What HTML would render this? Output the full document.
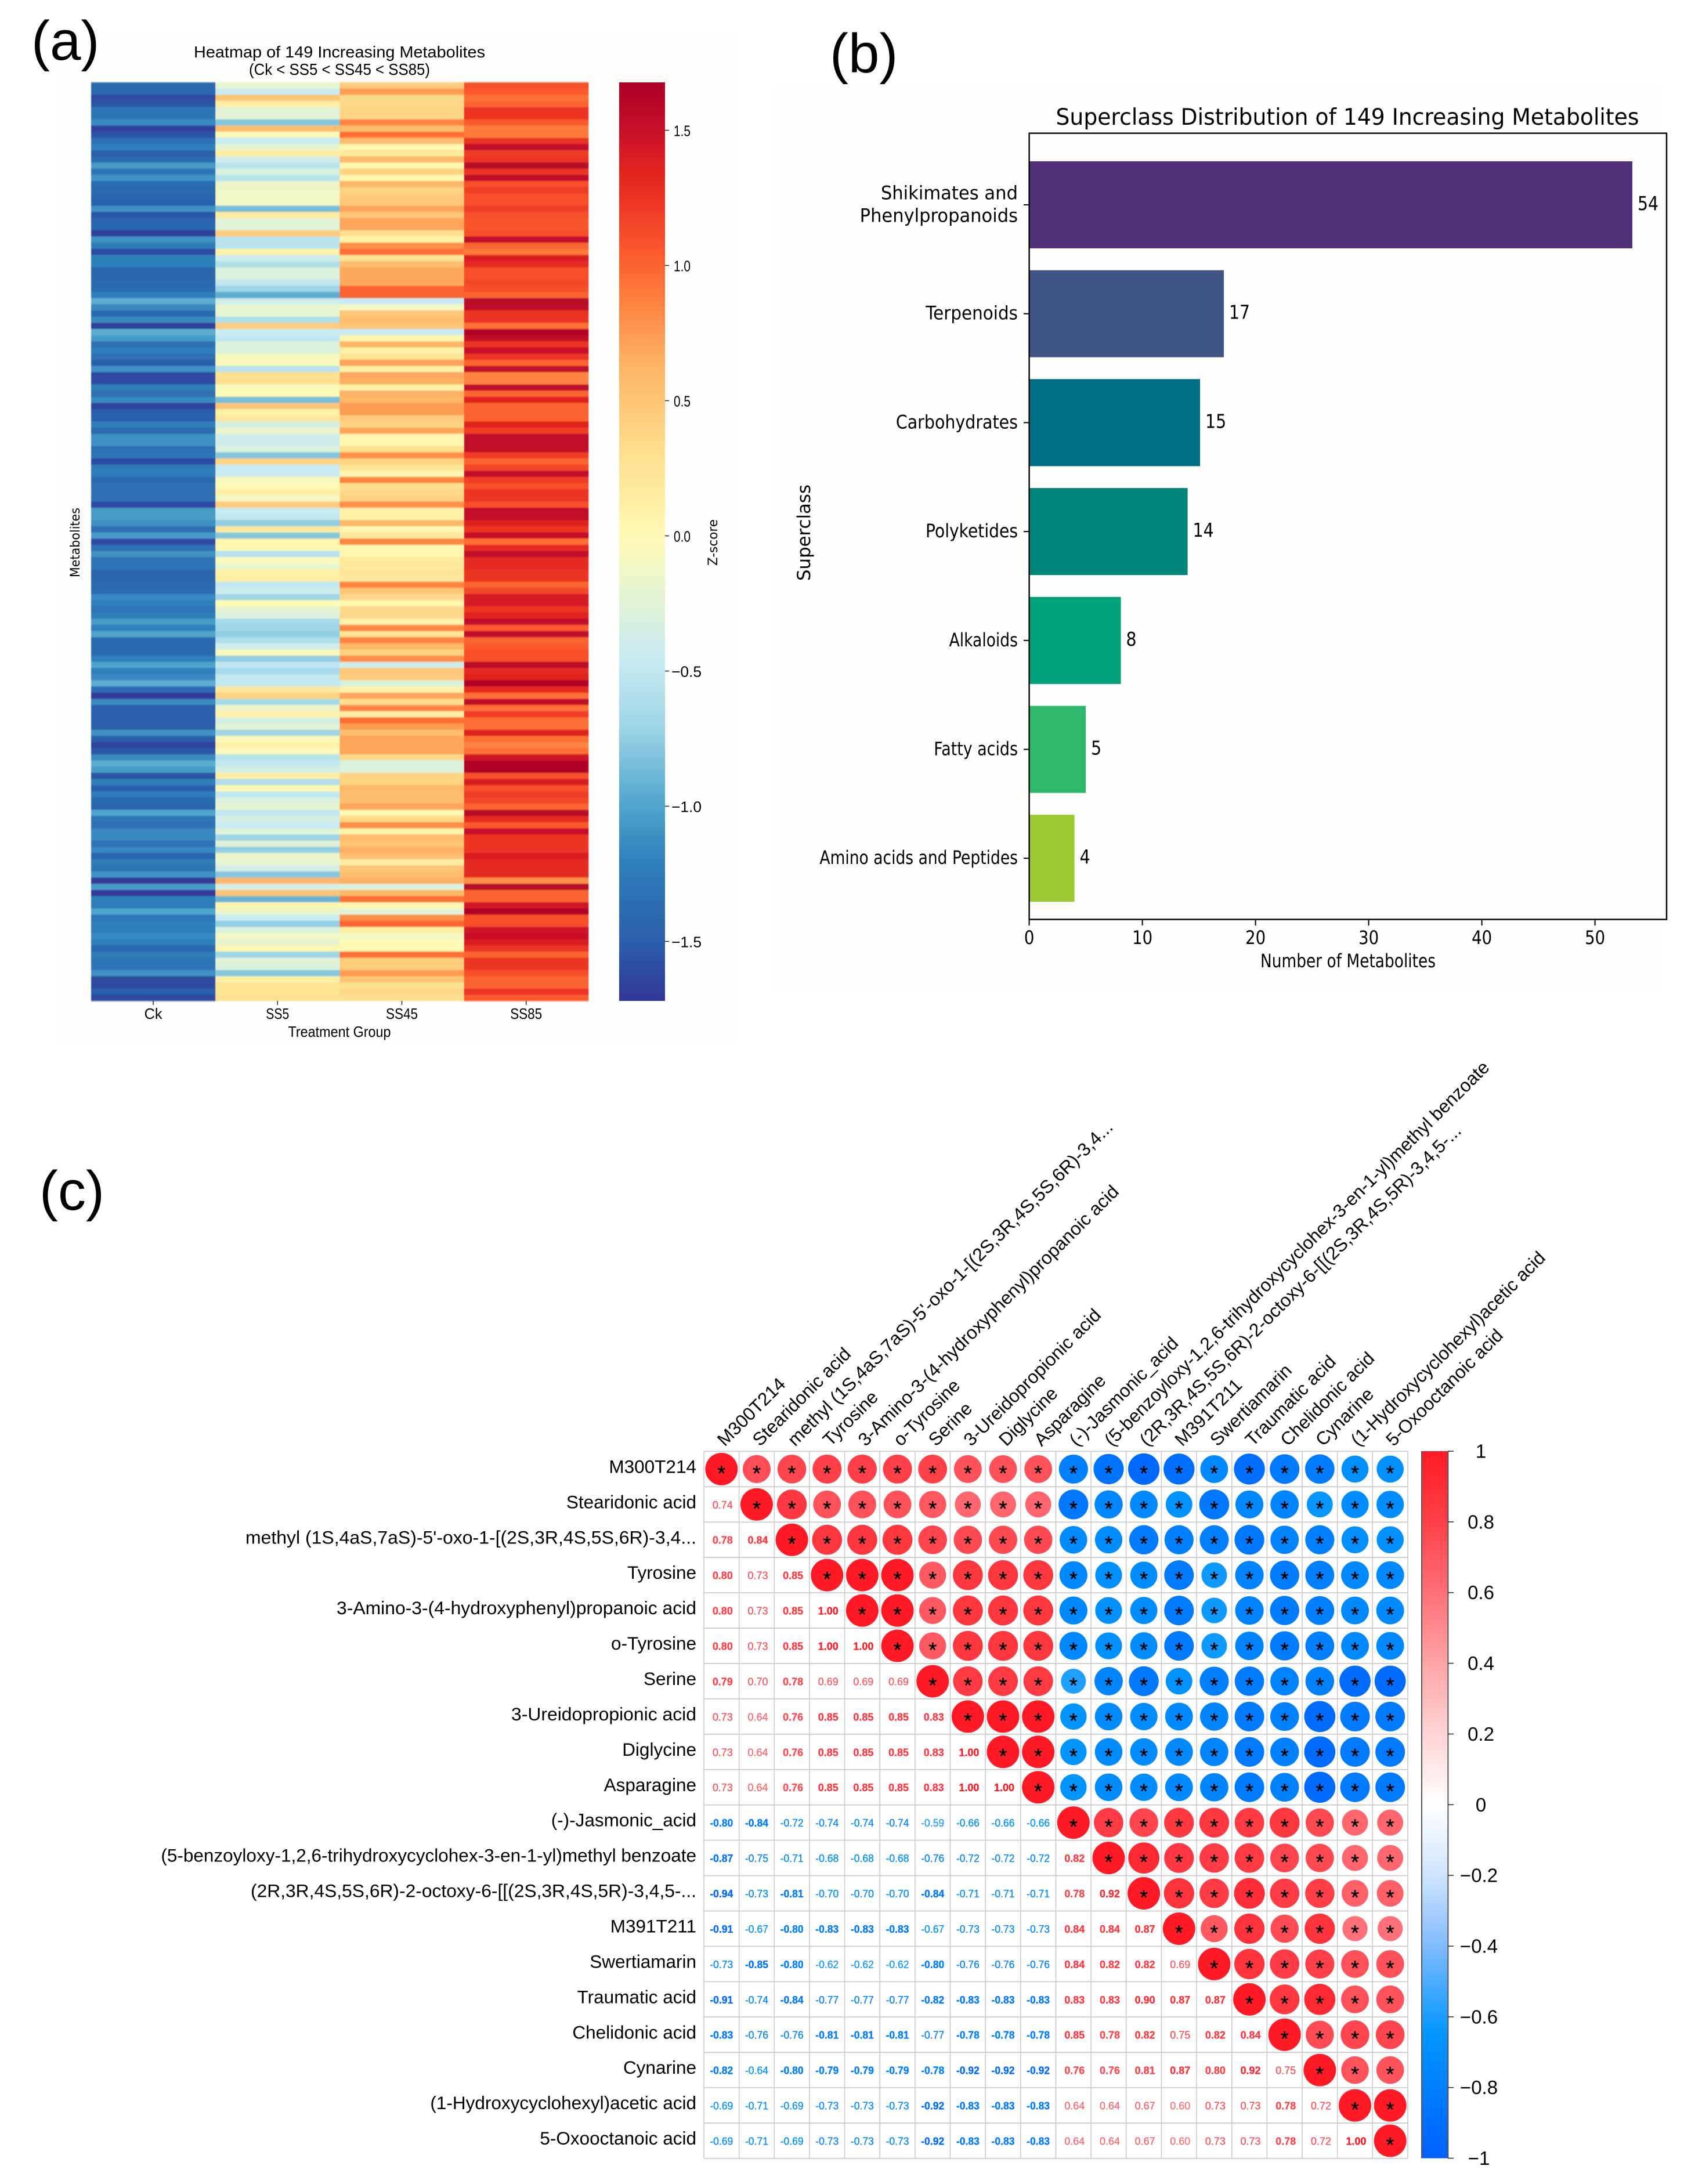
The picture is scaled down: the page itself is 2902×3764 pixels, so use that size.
<!DOCTYPE html>
<html lang="en">
<head>
<meta charset="utf-8">
<title>Metabolite heatmap, superclass distribution and correlation matrix</title>
<style>
html,body{margin:0;padding:0;background:#fff;}
body{width:2902px;height:3764px;overflow:hidden;}
svg{display:block;}
text{font-family:"Liberation Sans",Arial,sans-serif;fill:#000;}
.dj{font-family:"DejaVu Sans",sans-serif;}
</style>
</head>
<body>
<svg id="figure" xmlns="http://www.w3.org/2000/svg" width="2902" height="3764" viewBox="0 0 2902 3764">
  <defs id="defs">
    <filter id="soft" x="-1%" y="-1%" width="102%" height="102%"><feGaussianBlur stdDeviation="0.6 1"/></filter>
  </defs>
  <rect x="0" y="0" width="2902" height="3764" fill="#fff"/>
  <rect x="99" y="60" width="1174" height="1735" fill="#fefefd"/>
  <rect x="1330" y="150" width="1534" height="1557" fill="#fefefd"/>

  <text x="54" y="103" font-size="96">(a)</text>
  <text x="1430" y="125" font-size="96">(b)</text>
  <text x="68" y="2085" font-size="96">(c)</text>

  <g id="panel-a">
    <text x="585" y="99" font-size="28" text-anchor="middle" textLength="502" lengthAdjust="spacingAndGlyphs">Heatmap of 149 Increasing Metabolites</text>
    <text x="585" y="129" font-size="28" text-anchor="middle" textLength="312" lengthAdjust="spacingAndGlyphs">(Ck &lt; SS5 &lt; SS45 &lt; SS85)</text>
    <g id="heat-cells" filter="url(#soft)"></g>
    <g id="heat-x-axis"></g>
    <text x="585" y="1787" font-size="26" text-anchor="middle" textLength="177" lengthAdjust="spacingAndGlyphs">Treatment Group</text>
    <text class="dj" transform="translate(137,935) rotate(-90)" font-size="22" text-anchor="middle" textLength="120" lengthAdjust="spacingAndGlyphs">Metabolites</text>
    <g id="heat-colorbar"></g>
    <text class="dj" transform="translate(1236,935) rotate(-90)" font-size="22" text-anchor="middle" textLength="80" lengthAdjust="spacingAndGlyphs">Z-score</text>
  </g>

  <g id="panel-b">
    <text class="dj" x="2322" y="215" font-size="39" text-anchor="middle" textLength="1005" lengthAdjust="spacingAndGlyphs">Superclass Distribution of 149 Increasing Metabolites</text>
    <g id="bars"></g>
    <rect x="1773.6" y="229.6" width="1098.4" height="1355" fill="none" stroke="#000" stroke-width="2.4"/>
    <g id="bar-x-axis"></g>
    <g id="bar-y-axis"></g>
    <text class="dj" x="2323" y="1667" font-size="32" text-anchor="middle" textLength="302" lengthAdjust="spacingAndGlyphs">Number of Metabolites</text>
    <text class="dj" transform="translate(1396,918) rotate(-90)" font-size="31" text-anchor="middle" textLength="166" lengthAdjust="spacingAndGlyphs">Superclass</text>
  </g>

  <g id="panel-c">
    <g id="corr-grid"></g>
    <g id="corr-marks"></g>
    <g id="corr-row-labels"></g>
    <g id="corr-col-labels"></g>
    <g id="corr-colorbar"></g>
  </g>
</svg>

<script>
/* ---------- Panel (a) data ---------- */
const heatColumns = ['Ck', 'SS5', 'SS45', 'SS85'];
const heatTicks = [1.5, 1.0, 0.5, 0.0, -0.5, -1.0, -1.5];
const ckValues = [
-1.4,-1.4,-1.6,-1.55,-1.3,-1.3,-1.15,-1.65,-1.55,-1.35,
-1.2,-1.5,-1.4,-1.05,-1.3,-1.1,-1.4,-1.4,-1.45,-1.5,
-1.1,-1.55,-1.45,-1.45,-1.65,-1.1,-1.25,-1.6,-1.2,-1.2,
-1.45,-1.45,-1.4,-1.4,-1.2,-.95,-1.15,-1.4,-1.15,-1.65,
-.95,-1.05,-1.35,-1.2,-1.35,-1.5,-1.1,-1.6,-1.6,-1.2,
-1.35,-1.15,-1.65,-1.5,-1.5,-1.2,-1.4,-1.1,-1.1,-1.35,
-1.3,-1.6,-1.25,-1.25,-1.4,-1.35,-1.35,-1.35,-1.6,-1.05,
-1.05,-1.1,-1.35,-1.05,-1.6,-1.35,-1.1,-1.3,-1.3,-1.45,
-1.45,-1.4,-1.4,-1.15,-1.2,-1.3,-1.2,-1.05,-1.2,-1.0,
-1.4,-1.4,-1.4,-1.2,-1.0,-1.2,-1.15,-.95,-1.4,-1.7,
-1.15,-1.5,-1.5,-1.5,-1.5,-1.1,-1.5,-1.65,-1.55,-1.15,
-.95,-1.05,-1.55,-1.2,-1.5,-1.25,-1.4,-1.45,-1.0,-1.3,
-1.35,-1.15,-1.15,-1.3,-1.15,-1.45,-1.25,-1.3,-1.1,-1.7,
-1.05,-1.7,-1.2,-1.25,-1.0,-1.3,-1.2,-1.25,-1.15,-1.2,
-1.4,-1.25,-1.3,-1.3,-1.1,-1.6,-1.6,-1.5,-1.6];
const ss5Values = [
-.2,-.45,.5,.15,-.25,-.25,-.8,.55,-.05,-.45,
-.2,.15,-.4,-.55,-.3,-.55,-.15,-.15,-.12,-.12,
-.85,.2,-.25,-.25,.45,-.55,-.55,.1,-.4,-.6,
-.3,-.28,-.5,-.7,-.95,-.4,-.2,-.2,-.6,.45,
-.45,-.5,-.3,-.3,-.05,-.05,-.55,.3,.3,-.05,
0,-.85,.5,.1,.2,-.35,-.15,-.4,-.4,-.3,
-.8,.4,-.45,-.45,-.05,0,.1,-.1,.45,-.45,
-.5,-.75,.2,-.8,.05,.05,-.55,-.05,-.2,.1,
.15,-.5,-.4,-.7,0,-.2,-.3,-.65,-.7,-.75,
-.6,-.4,-.05,-.75,-.5,-.65,-.5,-.5,.2,.4,
-.65,-.15,.1,-.35,-.25,-.7,-.05,.1,-.05,-.55,
-.5,-.35,.15,-.6,.02,-.5,-.3,-.2,-.5,-.35,
-.45,-.25,-.7,-.25,-.75,-.15,-.2,-.35,-.8,.6,
-.35,.5,-.9,.05,-.15,-.45,-.75,-.3,-.1,-.2,
.05,-.7,-.25,-.3,-.8,.1,.25,.25,.3];
const ss45Values = [
.45,.75,.35,.35,.38,.38,.85,.55,.95,.55,
.05,.2,.6,.05,.4,.05,.62,.4,.45,.48,
.7,.5,.7,.7,.3,.08,.8,.95,.25,.55,
.68,.68,.68,1,1,-.45,-.1,.5,.55,.5,
-.45,.05,.6,.1,.25,.72,.1,.7,.65,.1,
.65,.6,.75,.75,.45,.4,.7,.05,.05,.3,
.8,.4,.25,.05,.85,.3,.35,.4,.8,.1,
.1,.6,.05,.2,.85,.05,.05,.2,.2,.25,
.2,.85,.5,.35,.05,.35,.35,.1,.85,.25,
.85,.6,.4,.8,-.4,.5,.45,-.3,.1,.7,
.3,.85,.15,.95,.75,.55,.7,.7,.7,.35,
-.3,-.3,.4,.4,.6,.55,.55,.7,.05,.35,
.8,.08,.55,.5,.65,.55,.15,.5,.55,.65,
-.3,.6,.95,.05,-.25,.8,1,.15,-.1,0,
.02,.95,.45,.45,.75,.5,.3,.35,.3];
const ss85Values = [
1.1,1.05,.95,1,1.25,1.25,1.05,.9,.9,1.25,
1.55,1.2,1.25,1.6,1.25,1.55,1.1,1.2,1.1,1.1,
1.2,1.1,1.08,1.08,1.1,1.55,1,.9,1.4,1.3,
1.1,1.1,1.15,1.1,1,1.6,1.55,1.25,1.25,.95,
1.65,1.55,1.25,1.5,1.25,1,1.55,.85,.85,1.55,
1,1.35,1,1,1,1.35,1.2,1.55,1.55,1.55,
1.2,1,1.15,1.55,1.2,1.1,1.25,1.25,1.1,1.55,
1.55,1.35,1.25,1.5,.95,1.3,1.55,1.3,1.3,1.25,
1.25,1,1.15,1.42,1.42,1.25,1.35,1.55,1.05,1.55,
1,1.05,1.1,1.1,1.6,1.3,1.35,1.65,1.3,.95,
1.55,.95,1.2,.95,.95,1.35,.95,.85,.95,1.45,
1.65,1.65,1.1,1.4,1.1,1.2,1.15,1,1.6,1.3,
1.05,1.5,1.25,1.25,1.25,1.4,1.3,1.3,1.3,.8,
1.6,1,1,1.45,1.65,1.1,1.1,1.45,1.5,1.4,
1.25,1,1.25,1.25,1.1,1,1,1.25,1.05];

/* ---------- Panel (b) data ---------- */
const barCategories = [['Shikimates and','Phenylpropanoids'],['Terpenoids'],['Carbohydrates'],['Polyketides'],['Alkaloids'],['Fatty acids'],['Amino acids and Peptides']];
const barValues = [53.3, 17.2, 15.1, 14, 8.1, 5, 4];
const barPrinted = ['54', '17', '15', '14', '8', '5', '4'];
const barColors = ['#503078', '#405585', '#006f84', '#00857b', '#00a079', '#2db86c', '#9cc932'];
const barTicks = [0, 10, 20, 30, 40, 50];

/* ---------- Panel (c) data ---------- */
const metabolites = ['M300T214','Stearidonic acid',"methyl (1S,4aS,7aS)-5'-oxo-1-[(2S,3R,4S,5S,6R)-3,4...",'Tyrosine','3-Amino-3-(4-hydroxyphenyl)propanoic acid','o-Tyrosine','Serine','3-Ureidopropionic acid','Diglycine','Asparagine','(-)-Jasmonic_acid','(5-benzoyloxy-1,2,6-trihydroxycyclohex-3-en-1-yl)methyl benzoate','(2R,3R,4S,5S,6R)-2-octoxy-6-[[(2S,3R,4S,5R)-3,4,5-...','M391T211','Swertiamarin','Traumatic acid','Chelidonic acid','Cynarine','(1-Hydroxycyclohexyl)acetic acid','5-Oxooctanoic acid'];
const correlationLower = [
[],
[.74],
[.78,.84],
[.80,.73,.85],
[.80,.73,.85,1],
[.80,.73,.85,1,1],
[.79,.70,.78,.69,.69,.69],
[.73,.64,.76,.85,.85,.85,.83],
[.73,.64,.76,.85,.85,.85,.83,1],
[.73,.64,.76,.85,.85,.85,.83,1,1],
[-.80,-.84,-.72,-.74,-.74,-.74,-.59,-.66,-.66,-.66],
[-.87,-.75,-.71,-.68,-.68,-.68,-.76,-.72,-.72,-.72,.82],
[-.94,-.73,-.81,-.70,-.70,-.70,-.84,-.71,-.71,-.71,.78,.92],
[-.91,-.67,-.80,-.83,-.83,-.83,-.67,-.73,-.73,-.73,.84,.84,.87],
[-.73,-.85,-.80,-.62,-.62,-.62,-.80,-.76,-.76,-.76,.84,.82,.82,.69],
[-.91,-.74,-.84,-.77,-.77,-.77,-.82,-.83,-.83,-.83,.83,.83,.90,.87,.87],
[-.83,-.76,-.76,-.81,-.81,-.81,-.77,-.78,-.78,-.78,.85,.78,.82,.75,.82,.84],
[-.82,-.64,-.80,-.79,-.79,-.79,-.78,-.92,-.92,-.92,.76,.76,.81,.87,.80,.92,.75],
[-.69,-.71,-.69,-.73,-.73,-.73,-.92,-.83,-.83,-.83,.64,.64,.67,.60,.73,.73,.78,.72],
[-.69,-.71,-.69,-.73,-.73,-.73,-.92,-.83,-.83,-.83,.64,.64,.67,.60,.73,.73,.78,.72,1]
];
const corrTicks = [1, 0.8, 0.6, 0.4, 0.2, 0, -0.2, -0.4, -0.6, -0.8, -1];

/* ---------- Typesetting adjustments (not data) ---------- */
const barLabelSqueeze = {'Shikimates and':.957,'Phenylpropanoids':.955,'Terpenoids':.92,'Carbohydrates':.89,'Polyketides':.88,'Alkaloids':.83,'Fatty acids':.84,'Amino acids and Peptides':.83};
const longLabelFit = {"methyl (1S,4aS,7aS)-5'-oxo-1-[(2S,3R,4S,5S,6R)-3,4...":777,'(2R,3R,4S,5S,6R)-2-octoxy-6-[[(2S,3R,4S,5R)-3,4,5-...':768,'3-Amino-3-(4-hydroxyphenyl)propanoic acid':620,'3-Ureidopropionic acid':319};

/* ---------- Helpers ---------- */
const NS = 'http://www.w3.org/2000/svg';
function make(tag, attrs, parent, content) {
  const el = document.createElementNS(NS, tag);
  for (const k in attrs) el.setAttribute(k, attrs[k]);
  if (content !== undefined) el.textContent = content;
  parent.appendChild(el);
  return el;
}
function hexToRgb(h) {
  return [parseInt(h.slice(1, 3), 16), parseInt(h.slice(3, 5), 16), parseInt(h.slice(5, 7), 16)];
}
function ramp(stops, v) {
  if (v <= stops[0][0]) return stops[0][1];
  for (let i = 1; i < stops.length; i++) {
    if (v <= stops[i][0]) {
      const t = (v - stops[i - 1][0]) / (stops[i][0] - stops[i - 1][0]);
      const a = hexToRgb(stops[i - 1][1]);
      const b = hexToRgb(stops[i][1]);
      return 'rgb(' + a.map((c, n) => Math.round(c + (b[n] - c) * t)).join(',') + ')';
    }
  }
  return stops[stops.length - 1][1];
}
const zRamp = [[-1.72,'#313695'],[-1.5,'#2b5fab'],[-1.2,'#2f80bb'],[-1.0,'#4ea5cb'],[-.7,'#9fd6e6'],[-.45,'#c9ebf2'],[-.2,'#e6f5d0'],[0,'#fffab5'],[.3,'#fee08f'],[.65,'#fdb163'],[.9,'#ff7a3a'],[1.05,'#fb5a2e'],[1.2,'#f03c26'],[1.35,'#e0241f'],[1.5,'#c8102a'],[1.68,'#ab0026']];
const rRamp = [[-1,'#0060ff'],[-.65,'#0096ff'],[-.4,'#80bbff'],[-.2,'#cfe4ff'],[0,'#ffffff'],[.2,'#ffd4d4'],[.4,'#ffa4a6'],[.6,'#ff7078'],[.8,'#ff4048'],[1,'#ff1a25']];

/* ---------- Panel (a) ---------- */
const heatSeries = [ckValues, ss5Values, ss45Values, ss85Values];
const heatX = j => 157 + j * 214.2;
const heatY = i => 142 + i * (1583 / ckValues.length);
const zToY = z => 923.5 - z * 466;
const heatCells = document.getElementById('heat-cells');
heatSeries.forEach((series, j) => {
  series.forEach((v, i) => {
    const cell = make('rect', {x: heatX(j), y: heatY(i), width: 214.7, height: heatY(i + 1) - heatY(i) + .4, fill: ramp(zRamp, v)}, heatCells);
    
    
  });
});
const heatAxis = document.getElementById('heat-x-axis');
const heatLabelWidths = w => w.length === 2 ? 31 : (w.length === 3 ? 40 : 55);
heatColumns.forEach((name, j) => {
  const cx = heatX(j) + 107.1;
  const tick = make('line', {x1: cx, x2: cx, y1: 1725, y2: 1732, stroke: '#333', 'stroke-width': 1.6}, heatAxis);
  
  
  const lab = make('text', {x: cx, y: 1756, 'font-size': 26, 'text-anchor': 'middle', textLength: heatLabelWidths(name), lengthAdjust: 'spacingAndGlyphs'}, heatAxis, name);
  
  
});
const defs = document.getElementById('defs');
const zGrad = make('linearGradient', {id: 'zGrad', x1: 0, x2: 0, y1: 0, y2: 1}, defs);
for (let n = 0; n <= 60; n++) {
  const z = 1.68 - n / 60 * 3.4;
  make('stop', {offset: n / 60, 'stop-color': ramp(zRamp, z)}, zGrad);
}
const heatBar = document.getElementById('heat-colorbar');
const heatBarRect = make('rect', {x: 1067, y: 142, width: 79, height: 1583, fill: 'url(#zGrad)'}, heatBar);


heatTicks.forEach(z => {
  const y = zToY(z);
  const t = make('line', {x1: 1146, x2: 1153, y1: y, y2: y, stroke: '#333', 'stroke-width': 1.6}, heatBar);
  
  
  const s = (z < 0 ? '\u2212' : '') + Math.abs(z).toFixed(1);
  const lab = make('text', {x: z < 0 ? 1157 : 1161, y: y + 10, 'font-size': 26, textLength: z < 0 ? 52 : 29, lengthAdjust: 'spacingAndGlyphs'}, heatBar, s);
  
  
});

/* ---------- Panel (b) ---------- */
const barX = v => 1773.6 + v * 19.5;
const barY = i => 353 + i * 187.7;
const barsG = document.getElementById('bars');
const barAxisY = document.getElementById('bar-y-axis');
const barAxisX = document.getElementById('bar-x-axis');
barValues.forEach((v, i) => {
  const bar = make('rect', {x: barX(0), y: barY(i) - 75, width: barX(v) - barX(0), height: 150, fill: barColors[i]}, barsG);
  
  
  const val = make('text', {'class': 'dj', transform: 'translate(' + (barX(v) + 9) + ',' + (barY(i) + 9) + ') scale(0.86,1)', 'font-size': 33}, barsG, barPrinted[i]);
  
  
  const tick = make('line', {x1: 1764, x2: 1773.6, y1: barY(i), y2: barY(i), stroke: '#000', 'stroke-width': 2}, barAxisY);
  
  
  const lines = barCategories[i];
  lines.forEach((line, k) => {
    const yy = barY(i) + 10 + (k - (lines.length - 1) / 2) * 39;
    const lab = make('text', {'class': 'dj', transform: 'translate(1754,' + yy + ') scale(' + barLabelSqueeze[line] + ',1)', 'font-size': 32, 'text-anchor': 'end'}, barAxisY, line);
    
    
  });
});
barTicks.forEach(t => {
  const x = barX(t);
  const tick = make('line', {x1: x, x2: x, y1: 1584.6, y2: 1595, stroke: '#000', 'stroke-width': 2}, barAxisX);
  
  
  const lab = make('text', {'class': 'dj', transform: 'translate(' + x + ',1627) scale(0.86,1)', 'font-size': 32, 'text-anchor': 'middle'}, barAxisX, String(t));
  
  
});

/* ---------- Panel (c) ---------- */
const nCorr = metabolites.length;
const cellX = j => 1213 + j * (1213 / nCorr);
const cellY = i => 2501.4 + i * (1218.6 / nCorr);
const corrGrid = document.getElementById('corr-grid');
for (let k = 0; k <= nCorr; k++) {
  const v = make('line', {x1: cellX(k), x2: cellX(k), y1: cellY(0), y2: cellY(nCorr), stroke: '#cccccc', 'stroke-width': 1.6}, corrGrid);
  
  
  const h = make('line', {x1: cellX(0), x2: cellX(nCorr), y1: cellY(k), y2: cellY(k), stroke: '#cccccc', 'stroke-width': 1.8}, corrGrid);
  
  
}
const valueAt = (i, j) => i === j ? 1 : (i > j ? correlationLower[i][j] : correlationLower[j][i]);
const corrMarks = document.getElementById('corr-marks');
for (let i = 0; i < nCorr; i++) {
  for (let j = 0; j < nCorr; j++) {
    const v = valueAt(i, j);
    const cx = cellX(j) + (cellX(1) - cellX(0)) / 2;
    const cy = cellY(i) + (cellY(1) - cellY(0)) / 2;
    const col = ramp(rRamp, v);
    if (j >= i) {
      const c = make('circle', {cx: cx, cy: cy, r: 28 * Math.sqrt(Math.abs(v)), fill: col}, corrMarks);
      
      
      const star = make('text', {x: cx, y: cy + 19.5, 'font-size': 36, 'text-anchor': 'middle', stroke: '#000', 'stroke-width': .5}, corrMarks, '*');
      
      
    } else {
      const strong = v > 0 ? v >= 0.76 : v <= -0.78;
      const s = v.toFixed(2);
      const t = make('text', {x: v < 0 ? cx : cx + 2, y: cy + 7, 'font-size': 18, 'text-anchor': 'middle', 'font-weight': strong ? 'bold' : 'normal', stroke: col, 'stroke-width': .3, style: 'fill:' + col, textLength: v < 0 ? 40 : 35, lengthAdjust: 'spacingAndGlyphs'}, corrMarks, s);
      
      
    }
  }
}
const rowG = document.getElementById('corr-row-labels');
const colG = document.getElementById('corr-col-labels');
metabolites.forEach((name, k) => {
  const fit = longLabelFit[name];
  const rAttrs = {x: 1200, y: cellY(k) + 37, 'font-size': 31.5, 'text-anchor': 'end'};
  if (fit) {
    rAttrs.textLength = fit;
    rAttrs.lengthAdjust = 'spacingAndGlyphs';
  }
  const r = make('text', rAttrs, rowG, name);
  
  
  const cx = cellX(k) + 36;
  const tAttrs = {transform: 'translate(' + cx + ',2494) rotate(-45)', 'font-size': 31.5};
  if (fit) {
    tAttrs.textLength = fit;
    tAttrs.lengthAdjust = 'spacingAndGlyphs';
  }
  const t = make('text', tAttrs, colG, name);
  
  
});
const rGrad = make('linearGradient', {id: 'rGrad', x1: 0, x2: 0, y1: 0, y2: 1}, defs);
for (let n = 0; n <= 80; n++) {
  const v = 1 - n / 40;
  make('stop', {offset: n / 80, 'stop-color': ramp(rRamp, v)}, rGrad);
}
const corrBar = document.getElementById('corr-colorbar');
const rToY = v => 3110.3 - v * 609.3;
const corrRect = make('rect', {x: 2450, y: rToY(1), width: 45.4, height: rToY(-1) - rToY(1), fill: 'url(#rGrad)'}, corrBar);


const edgeL = make('line', {x1: 2450, x2: 2450, y1: rToY(1), y2: rToY(-1), stroke: '#555', 'stroke-width': 2}, corrBar);


const edgeR = make('line', {x1: 2495.4, x2: 2495.4, y1: rToY(1), y2: rToY(-1), stroke: '#555', 'stroke-width': 2}, corrBar);


corrTicks.forEach(v => {
  const y = rToY(v);
  const t = make('line', {x1: 2495, x2: 2505, y1: y, y2: y, stroke: '#333', 'stroke-width': 1.6}, corrBar);
  
  
  const s = (v < 0 ? '\u2212' : '') + String(Math.abs(v));
  const lab = make('text', {x: v < 0 ? 2548.5 : 2552, y: y + 11.5, 'font-size': 33, 'text-anchor': 'middle'}, corrBar, s);
  
  
});
</script>
</body>
</html>
